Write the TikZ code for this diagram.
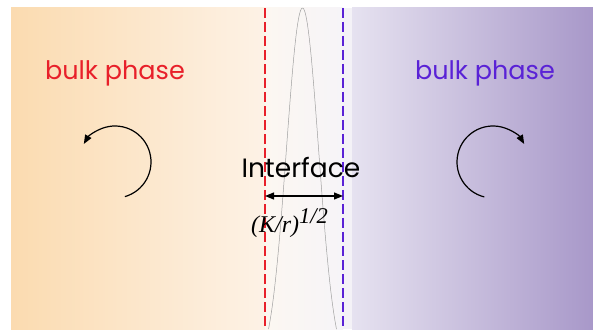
\documentclass[tikz,border=0pt]{standalone}
\usepackage{fontspec}
\setmainfont{Poppins}
\newfontfamily\tmsfont{Liberation Serif}
\usetikzlibrary{arrows.meta, positioning}
\definecolor{phred}{HTML}{E8202A}
\definecolor{phblue}{HTML}{5A22D6}
\definecolor{orbulk}{HTML}{FBDBB0}
\definecolor{orfade}{HTML}{FDF2E6}
\definecolor{midleft}{HTML}{FCF7F1}
\definecolor{midright}{HTML}{F6F4F8}
\definecolor{pubulk}{HTML}{A898C9}
\definecolor{pufade}{HTML}{E6E2F0}

\begin{document}
\begin{tikzpicture}[x=1pt, y=1pt,
  BP/.style={font=\fontsize{25.5}{25.5}\selectfont, inner sep=0pt, anchor=base},
  DL/.style={line width=1.4pt, dash pattern=on 10pt off 4pt},
  RA/.style={line width=1.2pt, -{Triangle[length=9pt,width=7pt]}},
  WA/.style={line width=1.2pt, {Triangle[length=9pt,width=7pt]}-{Triangle[length=9pt,width=7pt]}}
]
  \useasboundingbox (0,0) rectangle (593,329);

  % phases
  \shade[left color=orbulk, right color=orfade] (11,0) rectangle (265,321);
  \shade[left color=midleft, right color=midright] (265,0) rectangle (343,321);
  \fill[midright!90!pufade] (343,0) rectangle (352,321);
  \shade[left color=pufade, right color=pubulk] (352,0) rectangle (593,321);

  % interface profile
  \draw[gray!75, line width=0.5pt] plot[domain=268.5:336.5, samples=90]
    (\x, {-39+360*exp(-(\x-302.5)*(\x-302.5)/519)});

  \coordinate (rt) at (265,321);
  \coordinate (rb) at (265,0);
  \coordinate (bt) at (343,321);
  \coordinate (bb) at (343,0);
  \draw[DL, phred] (rt) -- (rb);
  \draw[DL, phblue] (bt) -- (bb);

  \node[BP, text=phred]  (bl) at (115,249) {bulk phase};
  \node[BP, text=phblue] (br) at (485,249) {bulk phase};
  \node[BP, font=\fontsize{26.5}{26.5}\selectfont] (if) at (301,151) {Interface};
  \node[inner sep=0pt, anchor=base west, font=\tmsfont\itshape] (wd) at (251,96)
    {\fontsize{24}{24}\selectfont (K/r)\raisebox{9pt}{\fontsize{22.5}{22.5}\selectfont 1/2}};

  \coordinate (wl) at (265,133);
  \coordinate (wr) at (343,133);
  \draw[WA] (wl) -- (wr);

  % rotation in each bulk
  \coordinate (lc) at (115,167);
  \coordinate (rc) at (493,167);
  \draw[RA] (lc) ++(-74:36) arc[start angle=-74, end angle=150, radius=36];
  \draw[RA] (rc) ++(256:36) arc[start angle=256, end angle=30, radius=36];
\end{tikzpicture}
\end{document}
